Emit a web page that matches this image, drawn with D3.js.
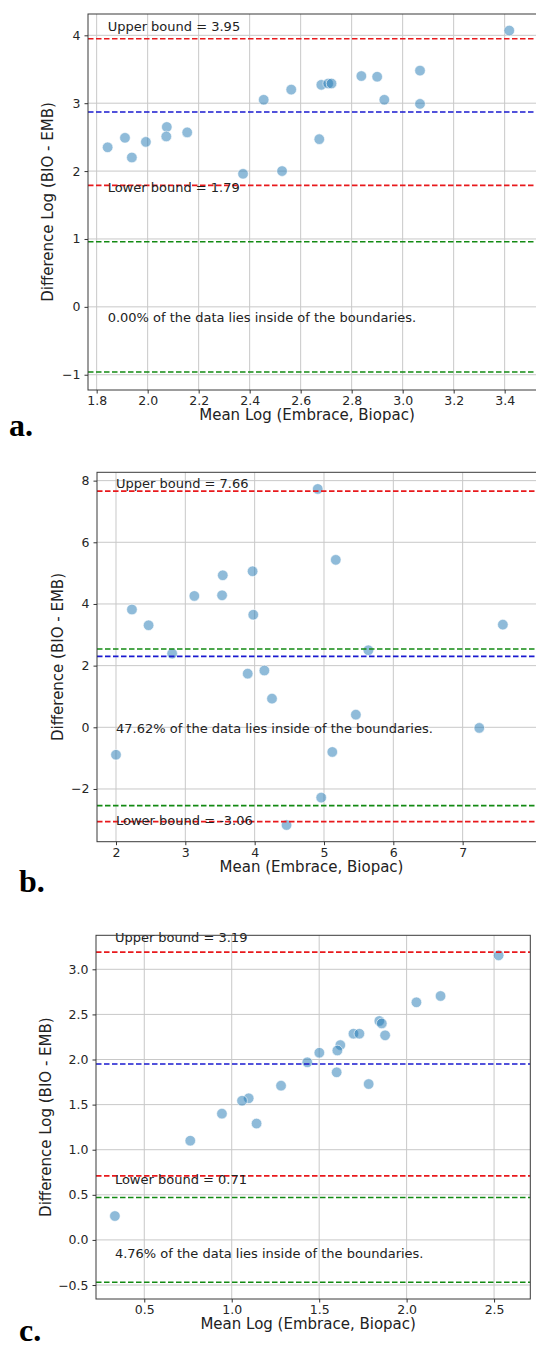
<html>
<head>
  <meta charset="utf-8">
  <title>bland-altman</title>
  <script src="https://d3js.org/d3.v7.min.js"></script>
  <style>
    body { margin: 0; background: #fff; }
    text { font-family: "DejaVu Sans", sans-serif; }
  </style>
</head>
<body>
<script>
// panel a: log values
var aMean = [1.843, 1.911, 1.938, 1.993, 2.075, 2.073, 2.155, 2.374, 2.455, 2.527, 2.563,
             2.681, 2.708, 2.721, 2.673, 2.838, 2.900, 2.928, 3.068, 3.068, 3.418];
var aDiff = [2.35, 2.49, 2.20, 2.43, 2.65, 2.51, 2.57, 1.96, 3.05, 2.00, 3.20,
             3.27, 3.29, 3.29, 2.47, 3.40, 3.39, 3.05, 3.48, 2.99, 4.07];
var aXTicks = [1.8, 2.0, 2.2, 2.4, 2.6, 2.8, 3.0, 3.2, 3.4];
var aYTicks = [-1, 0, 1, 2, 3, 4];

// panel b: raw values
var bMean = [2.23, 2.47, 2.81, 3.13, 3.54, 3.53, 3.97, 3.98, 4.91, 5.17, 5.64, 7.58,
             3.90, 4.14, 4.25, 5.46, 7.24, 2.00, 5.12, 4.96, 4.46];
var bDiff = [3.82, 3.31, 2.39, 4.26, 4.93, 4.28, 5.06, 3.65, 7.73, 5.43, 2.50, 3.33,
             1.74, 1.84, 0.93, 0.41, -0.02, -0.89, -0.80, -2.28, -3.17];
var bXTicks = [2, 3, 4, 5, 6, 7];
var bYTicks = [-2, 0, 2, 4, 6, 8];

// panel c: log values
var cMean = [2.526, 2.056, 2.194, 1.844, 1.858, 1.877, 1.696, 1.730, 1.621, 1.604, 1.501,
             1.432, 1.600, 1.783, 1.282, 1.097, 1.059, 0.944, 1.142, 0.763, 0.332];
var cDiff = [3.155, 2.634, 2.704, 2.427, 2.400, 2.268, 2.286, 2.286, 2.160, 2.100, 2.075,
             1.969, 1.858, 1.728, 1.710, 1.570, 1.543, 1.400, 1.290, 1.100, 0.265];
var cXTicks = [0.5, 1.0, 1.5, 2.0, 2.5];
var cYTicks = [-0.5, 0.0, 0.5, 1.0, 1.5, 2.0, 2.5, 3.0];

// bounds: [lower, mean, upper], tolerance band
var aBounds = [1.79, 2.87, 3.95], aBand = 0.96, aPct = "0.00";
var bBounds = [-3.06, 2.30, 7.66], bBand = 2.54, bPct = "47.62";
var cBounds = [0.71, 1.95, 3.19], cBand = 0.47, cPct = "4.76";

var svg = d3.select("body").append("svg")
  .attr("width", 536).attr("height", 1347);

function drawPanel(p) {
  var x = d3.scaleLinear().domain(p.xDom).range([p.left, p.right]);
  var y = d3.scaleLinear().domain(p.yDom).range([p.bottom, p.top]);
  var g = svg.append("g");

  var clipId = "clip" + p.letter;
  g.append("clipPath").attr("id", clipId).append("rect")
    .attr("x", p.left).attr("y", p.top)
    .attr("width", p.right - p.left).attr("height", p.bottom - p.top);

  var plot = g.append("g").attr("clip-path", "url(#" + clipId + ")");

  // grid
  plot.selectAll(".gx").data(p.xTicks).enter().append("line")
    .attr("x1", function(d){ return x(d); }).attr("x2", function(d){ return x(d); })
    .attr("y1", p.top).attr("y2", p.bottom)
    .attr("stroke", "#c8c8c8").attr("stroke-width", 1);
  plot.selectAll(".gy").data(p.yTicks).enter().append("line")
    .attr("y1", function(d){ return y(d); }).attr("y2", function(d){ return y(d); })
    .attr("x1", p.left).attr("x2", p.right)
    .attr("stroke", "#c8c8c8").attr("stroke-width", 1);

  // points
  plot.selectAll("circle").data(d3.range(p.mean.length)).enter().append("circle")
    .attr("cx", function(i){ return x(p.mean[i]); })
    .attr("cy", function(i){ return y(p.diff[i]); })
    .attr("r", 5.3)
    .attr("fill", "#1f77b4").attr("fill-opacity", 0.5)
    .attr("stroke", "#fff").attr("stroke-width", 0.6);

  // horizontal reference lines
  var hl = [
    {v: p.bounds[2], c: "#e8191c"},
    {v: p.bounds[1], c: "#1a1ad0"},
    {v: p.bounds[0], c: "#e8191c"},
    {v: p.band, c: "#138a13"},
    {v: -p.band, c: "#138a13"}
  ];
  plot.selectAll(".hl").data(hl).enter().append("line")
    .attr("x1", p.left).attr("x2", p.right)
    .attr("y1", function(d){ return y(d.v); }).attr("y2", function(d){ return y(d.v); })
    .attr("stroke", function(d){ return d.c; })
    .attr("stroke-width", 1.6).attr("stroke-dasharray", "5.5,2.5");

  // annotations
  var tx = x(d3.min(p.mean));
  g.append("text").attr("x", tx).attr("y", y(p.upY)).attr("dy", "0.35em")
    .attr("font-size", 13).attr("fill", "#222")
    .text("Upper bound = " + p.bounds[2].toFixed(2));
  g.append("text").attr("x", tx).attr("y", y(p.loY)).attr("dy", "0.35em")
    .attr("font-size", 13).attr("fill", "#222")
    .text("Lower bound = " + p.bounds[0].toFixed(2));
  g.append("text").attr("x", tx).attr("y", y(p.pctY)).attr("dy", "0.35em")
    .attr("font-size", 13).attr("fill", "#222")
    .text(p.pct + "% of the data lies inside of the boundaries.");

  // frame
  g.append("rect").attr("x", p.left).attr("y", p.top)
    .attr("width", p.right - p.left).attr("height", p.bottom - p.top)
    .attr("fill", "none").attr("stroke", "#3a3a3a").attr("stroke-width", 1);

  // axes
  var xa = g.append("g").attr("transform", "translate(0," + p.bottom + ")")
    .call(d3.axisBottom(x).tickValues(p.xTicks).tickFormat(d3.format(p.xFmt))
      .tickSize(3.5).tickPadding(3));
  var ya = g.append("g").attr("transform", "translate(" + p.left + ",0)")
    .call(d3.axisLeft(y).tickValues(p.yTicks).tickFormat(d3.format(p.yFmt))
      .tickSize(3.5).tickPadding(4));
  [xa, ya].forEach(function(a){
    a.select(".domain").remove();
    a.selectAll("line").attr("stroke", "#333");
    a.selectAll("text").attr("font-size", 12.5).attr("fill", "#262626")
      .style("font-family", "DejaVu Sans");
  });

  // axis titles
  g.append("text").attr("x", (p.left + Math.min(p.right, 536)) / 2 - 5).attr("y", p.bottom + 30)
    .attr("text-anchor", "middle").attr("font-size", 15).attr("fill", "#222")
    .text(p.xLabel);
  g.append("text")
    .attr("transform", "translate(" + p.yLabelX + "," + (p.top + p.bottom) / 2 + ") rotate(-90)")
    .attr("text-anchor", "middle").attr("font-size", 15).attr("fill", "#222")
    .text(p.yLabel);

  // panel letter
  g.append("text").attr("x", p.letterX).attr("y", p.letterY)
    .style("font-family", "'Liberation Serif', 'Times New Roman', serif")
    .attr("font-weight", "bold").attr("font-size", 32).attr("fill", "#000")
    .text(p.letter + ".");
}

drawPanel({
  letter: "a", letterX: 9, letterY: 436,
  left: 88, right: 545, top: 14, bottom: 390,
  xDom: [1.766, 1.766 + 457 / 255], yDom: [-1.225, 4.314],
  xTicks: aXTicks, yTicks: aYTicks, xFmt: ".1f", yFmt: "d",
  mean: aMean, diff: aDiff, bounds: aBounds, band: aBand, pct: aPct,
  upY: 4.13, loY: 1.76, pctY: -0.16,
  xLabel: "Mean Log (Embrace, Biopac)", yLabel: "Difference Log (BIO - EMB)", yLabelX: 53
});

drawPanel({
  letter: "b", letterX: 19, letterY: 892,
  left: 97, right: 545, top: 472.3, bottom: 841.7,
  xDom: [1.726, 1.726 + 448 / 69.33], yDom: [-3.71, 8.27],
  xTicks: bXTicks, yTicks: bYTicks, xFmt: "d", yFmt: "d",
  mean: bMean, diff: bDiff, bounds: bBounds, band: bBand, pct: bPct,
  upY: 7.90, loY: -3.03, pctY: -0.05,
  xLabel: "Mean (Embrace, Biopac)", yLabel: "Difference (BIO - EMB)", yLabelX: 63
});

drawPanel({
  letter: "c", letterX: 19, letterY: 1341,
  left: 96, right: 530.3, top: 935.3, bottom: 1299,
  xDom: [0.224, 0.224 + 434.3 / 174.9], yDom: [-0.655, 3.377],
  xTicks: cXTicks, yTicks: cYTicks, xFmt: ".1f", yFmt: ".1f",
  mean: cMean, diff: cDiff, bounds: cBounds, band: cBand, pct: cPct,
  upY: 3.35, loY: 0.665, pctY: -0.145,
  xLabel: "Mean Log (Embrace, Biopac)", yLabel: "Difference Log (BIO - EMB)", yLabelX: 51
});
</script>
</body>
</html>
